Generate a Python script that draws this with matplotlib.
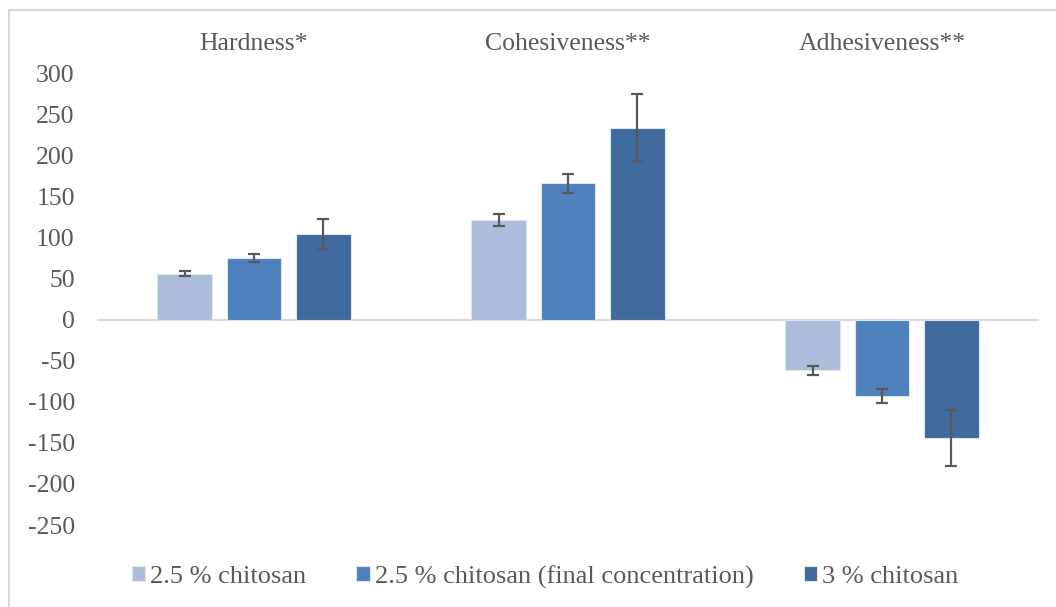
import matplotlib

matplotlib.use("Agg")
import matplotlib.pyplot as plt
import numpy as np
from matplotlib.patches import Rectangle

CATEGORIES = ["Hardness*", "Cohesiveness**", "Adhesiveness**"]
SERIES = ["2.5 % chitosan", "2.5 % chitosan (final concentration)", "3 % chitosan"]
VALUES = {
    "2.5 % chitosan": [56, 121, -62],
    "2.5 % chitosan (final concentration)": [74.5, 166, -93],
    "3 % chitosan": [104, 233.5, -144],
}
ERRORS = {
    "2.5 % chitosan": [3, 7.5, 5],
    "2.5 % chitosan (final concentration)": [4.7, 11.6, 8.7],
    "3 % chitosan": [18, 40.5, 34.5],
}
COLORS = ["#adbcdb", "#4f81bd", "#3e6a9c"]
TEXT = "#595959"

plt.rcParams["font.family"] = ["Liberation Serif", "DejaVu Serif"]
plt.rcParams["axes.unicode_minus"] = False

fig = plt.figure(figsize=(10.56, 6.07), dpi=100)
W, H = 1056, 607
ax = fig.add_axes([97 / W, 1 - 525 / H, (1039 - 97) / W, (525 - 73) / H])

x = np.arange(len(CATEGORIES))
step = 0.221
width = 0.175
for i, (name, color) in enumerate(zip(SERIES, COLORS)):
    ax.bar(
        x + (i - 1) * step, VALUES[name], width,
        yerr=ERRORS[name], color=color, edgecolor="#dce6f2", linewidth=0.8,
        label=name, zorder=2,
        error_kw=dict(ecolor=TEXT, elinewidth=1.6, capsize=4.5, capthick=1.6),
    )

ax.axhline(0, color="#d9d9d9", lw=1.5, zorder=1)
ax.set_xlim(-0.5, 2.5)
ax.set_ylim(-250, 300)
ax.set_yticks(np.arange(-250, 301, 50))
ax.set_xticks([])
ax.tick_params(axis="y", length=0, pad=16, labelsize=18.5, labelcolor=TEXT)
for s in ax.spines.values():
    s.set_visible(False)

for xi, cat in zip(x, CATEGORIES):
    ax.text(xi, 1 + 29 / (525 - 73), cat, transform=ax.get_xaxis_transform(),
            ha="center", va="center", fontsize=18.5, color=TEXT)

leg = fig.legend(
    loc="center", bbox_to_anchor=(545 / W, 1 - 577 / H), ncol=3, frameon=False,
    fontsize=19, handlelength=0.5, handleheight=0.5, handletextpad=0.2,
    columnspacing=1.9,
)
for t in leg.get_texts():
    t.set_color(TEXT)

fig.patches.append(Rectangle((9 / W, -0.1), 1.2, 1 - 10 / H + 0.1,
                             transform=fig.transFigure, fill=False,
                             ec="#d9d9d9", lw=1.5))

fig.savefig("out.png", dpi=100)
